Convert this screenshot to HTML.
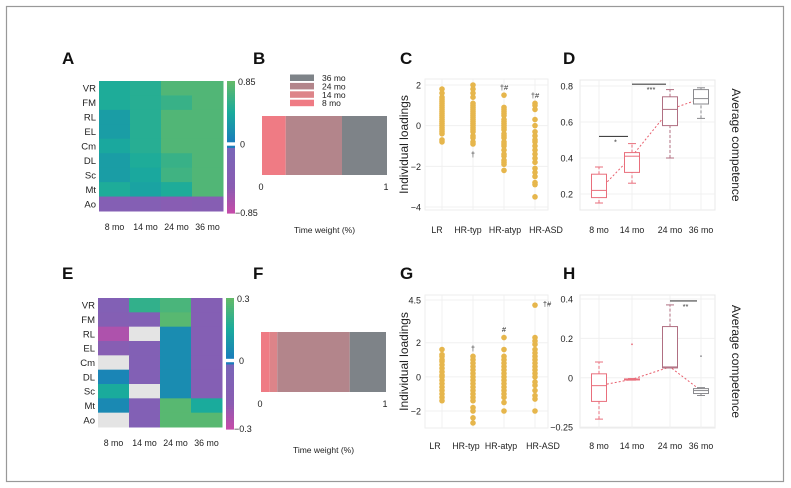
<!DOCTYPE html>
<html><head><meta charset="utf-8">
<style>
body{margin:0;background:#fff;}
svg{display:block;font-family:"Liberation Sans",sans-serif;}
</style></head>
<body>
<svg id="fig" width="791" height="488" viewBox="0 0 791 488" xmlns="http://www.w3.org/2000/svg">
<rect x="6.5" y="6.5" width="777" height="475" fill="#fff" stroke="#999" stroke-width="1.2"/>
</svg>
<script>
// ---------- DATA ----------
const heatRows = ["VR","FM","RL","EL","Cm","DL","Sc","Mt","Ao"];
const heatCols = ["8 mo","14 mo","24 mo","36 mo"];
const heatA = [
 [0.45,0.5,0.75,0.75],[0.45,0.5,0.6,0.75],[0.3,0.5,0.75,0.75],[0.3,0.5,0.75,0.75],
 [0.4,0.5,0.75,0.75],[0.3,0.45,0.6,0.75],[0.3,0.4,0.65,0.75],[0.45,0.35,0.45,0.75],
 [-0.35,-0.35,-0.45,-0.4]];
const heatE = [
 [-0.1,0.2,0.25,-0.12],[-0.12,-0.1,0.28,-0.12],[-0.25,null,0.05,-0.12],[-0.15,-0.1,0.05,-0.12],
 [null,-0.1,0.05,-0.12],[0.03,-0.1,0.05,-0.12],[0.15,null,0.05,-0.12],[0.04,-0.1,0.28,0.15],
 [null,-0.1,0.28,0.28]];
const scaleA = 0.85, scaleE = 0.3;
const weightLabels = ["8 mo","14 mo","24 mo","36 mo"];
const weightsB = [0.19,0.0,0.45,0.36];
const weightsF = [0.07,0.06,0.58,0.29];
const groups = ["LR","HR-typ","HR-atyp","HR-ASD"];
const loadC = [
 [1.8,1.6,1.4,1.3,1.2,1.1,1.0,0.9,0.8,0.7,0.6,0.5,0.4,0.3,0.2,0.1,0,-0.1,-0.2,-0.3,-0.4,-0.7,-0.8],
 [2.0,1.8,1.6,1.4,1.1,1.0,0.9,0.8,0.7,0.6,0.5,0.4,0.3,0.2,0.1,0,-0.1,-0.2,-0.3,-0.5,-0.6,-0.8,-0.9],
 [1.5,0.9,0.8,0.7,0.6,0.5,0.3,0.2,0.1,0,-0.1,-0.2,-0.4,-0.5,-0.6,-0.8,-0.9,-1.0,-1.2,-1.4,-1.5,-1.7,-1.8,-1.9,-2.2],
 [1.1,1.0,0.8,0.3,0,-0.3,-0.5,-0.7,-0.8,-1.0,-1.2,-1.4,-1.6,-1.8,-2.1,-2.3,-2.5,-2.8,-2.9,-3.5]];
const marksC = [null,{t:"†",v:-1.4},{t:"†#",v:1.9},{t:"†#",v:1.5}];
const loadG = [
 [1.6,1.3,1.2,1.0,0.9,0.7,0.5,0.3,0.1,0,-0.2,-0.4,-0.6,-0.8,-1.0,-1.2,-1.4],
 [1.2,1.0,0.8,0.6,0.4,0.2,0,-0.2,-0.4,-0.6,-0.8,-1.0,-1.2,-1.4,-1.8,-2.0,-2.4,-2.7],
 [2.3,1.6,1.2,1.0,0.8,0.6,0.4,0.2,0,-0.2,-0.4,-0.6,-0.8,-1.0,-1.2,-1.5,-2.0],
 [4.2,2.3,2.1,1.9,1.6,1.4,1.2,1.0,0.8,0.6,0.4,0.2,0,-0.3,-0.5,-0.8,-1.1,-1.3,-2.0]];
const marksG = [null,{t:"†",v:1.7},{t:"#",v:2.8},{t:"†#",v:4.3,dx:12}];
const ticksC = [2,0,-2,-4];
const ticksG = [4.5,2,0,-2];
const timeCats = ["8 mo","14 mo","24 mo","36 mo"];
// box stats: [whiskerLow, q1, median, q3, whiskerHigh]
const boxD = [[0.15,0.18,0.22,0.31,0.35],[0.26,0.32,0.41,0.43,0.48],[0.40,0.58,0.67,0.74,0.78],[0.62,0.70,0.73,0.78,0.79]];
const boxH = [[-0.21,-0.12,-0.04,0.02,0.08],[-0.012,-0.01,-0.008,-0.006,-0.004],[0.05,0.05,0.055,0.26,0.37],[-0.09,-0.08,-0.065,-0.055,-0.05]];
const outH = [null,0.17,null,0.11];
const ticksD = [0.8,0.6,0.4,0.2];
const ticksH = [0.4,0.2,0,-0.25];
const sigD = [{a:0,b:1,v:0.52,t:"*"},{a:1,b:2,v:0.81,t:"***"}];
const sigH = [{a:2,b:3,v:0.39,t:"**"}];

// ---------- HELPERS ----------
const NS="http://www.w3.org/2000/svg";
const svg=document.getElementById('fig');
function mk(tag,attrs,parent,text){const e=document.createElementNS(NS,tag);for(const k in attrs)e.setAttribute(k,attrs[k]);if(text!==undefined)e.textContent=text;(parent||svg).appendChild(e);return e;}
function lerp(c1,c2,t){const a=parseInt(c1.slice(1),16),b=parseInt(c2.slice(1),16);const r=Math.round(((a>>16)&255)*(1-t)+((b>>16)&255)*t),g=Math.round(((a>>8)&255)*(1-t)+((b>>8)&255)*t),bl=Math.round((a&255)*(1-t)+(b&255)*t);return `rgb(${r},${g},${bl})`;}
function cmap(v){if(v===null)return "#e4e4e4";if(v>=0){return v<0.5?lerp("#1a7cbc","#1aab9c",v/0.5):lerp("#1aab9c","#62ba6a",(v-0.5)/0.5);}const t=Math.min(1,-v);return t<0.6?lerp("#7866b8","#8a5cb2",t/0.6):lerp("#8a5cb2","#c84aa8",(t-0.6)/0.4);}
function panelLabel(t,x,y){const e=mk('text',{x:x,y:y,'font-size':17,'font-weight':'bold',fill:'#111'},svg,t);}

// ---------- HEATMAPS ----------
function heatmap(id,data,scale,x0,y0,w,h,lbl){
 const g=mk('g',{});
 const cw=w/heatCols.length,rh=h/heatRows.length;
 data.forEach((row,i)=>row.forEach((v,j)=>{
  const r=mk('rect',{x:x0+j*cw,y:y0+i*rh,width:cw+0.5,height:rh+0.5,fill:cmap(v===null?null:v/scale)},g);
  
 }));
 heatRows.forEach((r,i)=>{const t=mk('text',{x:x0-3,y:y0+i*rh+rh/2+3.5,'font-size':9.5,'text-anchor':'end',fill:'#222'},g,r);});
 heatCols.forEach((c,j)=>{const t=mk('text',{x:x0+j*cw+cw/2,y:y0+h+19,'font-size':8.8,'text-anchor':'middle',fill:'#222'},g,c);});
 const cb=mk('g',{},g);
 const cx=x0+w+4,cbw=8,mid=y0+h*0.49,steps=30;
 for(let k=0;k<steps;k++){const v=1-k/steps;mk('rect',{x:cx,y:y0+(mid-3-y0)*k/steps,width:cbw,height:(mid-3-y0)/steps+0.6,fill:cmap(v)},cb);}
 for(let k=0;k<steps;k++){const v=-k/steps;mk('rect',{x:cx,y:mid+1+(y0+h+1-mid)*k/steps,width:cbw,height:(y0+h+1-mid)/steps+0.6,fill:cmap(v)},cb);}
 mk('text',{x:cx+11,y:y0+4,'font-size':9,fill:'#222'},cb,lbl[0]);
 mk('text',{x:cx+13,y:mid+3,'font-size':9,fill:'#222'},cb,"0");
 mk('text',{x:cx+8,y:y0+h+5,'font-size':9,fill:'#222'},cb,lbl[1]);
}
panelLabel("A",62,64);
heatmap("a",heatA,scaleA,99,81,124,130,["0.85","−0.85"]);
panelLabel("E",62,279);
heatmap("e",heatE,scaleE,98,298,124,129,["0.3","−0.3"]);

// ---------- TIME WEIGHT BARS ----------
const wColors=["#ef7b84","#dd8489","#b3858b","#7e8388"];
function weightBar(id,weights,x0,y0,w,h,legend,titleY){
 const g=mk('g',{});
 let acc=0;
 weights.forEach((v,i)=>{const r=mk('rect',{x:x0+acc*w,y:y0,width:v*w,height:h,fill:wColors[i]},g);acc+=v;});
 mk('text',{x:x0-1,y:y0+h+15,'font-size':9,'text-anchor':'middle',fill:'#222'},g,"0");
 mk('text',{x:x0+w-1,y:y0+h+15,'font-size':9,'text-anchor':'middle',fill:'#222'},g,"1");
 const t=mk('text',{x:x0+w/2,y:titleY,'font-size':8.5,'text-anchor':'middle',fill:'#222'},g,"Time weight (%)");
 if(legend){const lg=mk('g',{},g);
  [3,2,1,0].forEach((i,k)=>{const yy=74.5+k*8.4;const e=mk('rect',{x:290,y:yy,width:24,height:6.5,fill:wColors[i]},lg);mk('text',{x:322,y:yy+6.5,'font-size':8.5,fill:'#222'},lg,weightLabels[i]);});}
}
panelLabel("B",253,64);
weightBar("b",weightsB,262,116,125,59,true,233);
panelLabel("F",253,279);
weightBar("f",weightsF,261,332,125,60,false,453);

// ---------- DOT PLOTS ----------
function dotPlot(id,data,marks,ticks,yTop,yTopPx,yBot,yBotPx,boxTop,boxBot,labY,labXs){
 const g=mk('g',{});
 const y=v=>yTopPx+(yTop-v)*(yBotPx-yTopPx)/(yTop-yBot);
 const xs=[442,473,504,535];
 const x=i=>xs[i];
 mk('rect',{x:425,y:boxTop,width:123,height:boxBot-boxTop,fill:'none',stroke:'#eee'},g);
 ticks.forEach(t=>{mk('line',{x1:425,x2:548,y1:y(t),y2:y(t),stroke:'#f0f0f0'},g);const e=mk('text',{x:421,y:y(t)+3.5,'font-size':9,'text-anchor':'end',fill:'#222'},g,String(t).replace('-','−'));});
 groups.forEach((gname,i)=>{mk('line',{x1:x(i),x2:x(i),y1:boxTop,y2:boxBot,stroke:'#f0f0f0'},g);const e=mk('text',{x:labXs[i],y:labY,'font-size':8.8,'text-anchor':'middle',fill:'#222'},g,gname);
  data[i].forEach(v=>{const c=mk('circle',{cx:x(i),cy:y(v),r:2.8,fill:'#e6b64c'},g);});
  const m=marks[i];if(m){mk('text',{x:x(i)+(m.dx||0),y:y(m.v)+3,'font-size':7.5,'text-anchor':'middle',fill:'#333'},g,m.t);}
 });
 const yt=(boxTop+boxBot)/2;
 const e=mk('text',{x:0,y:0,'font-size':12,'text-anchor':'middle',fill:'#222',transform:`translate(408,${yt}) rotate(-90)`},g,"Individual loadings");
}
panelLabel("C",400,64);
dotPlot("c",loadC,marksC,ticksC,2,85,-4,207,79,210,233,[437,468,505,546]);
panelLabel("G",400,279);
dotPlot("g",loadG,marksG,ticksG,4.5,300,-2,411,295,428,449,[435,466,501,543]);

// ---------- BOX PLOTS ----------
const bColors=["#e96f7c","#e96f7c","#b06f82","#8a8a8e"];
function boxPlot(id,data,outs,sigs,ticks,yTop,yTopPx,yBot,yBotPx,boxTop,boxBot,labY){
 const g=mk('g',{});
 const y=v=>yTopPx+(yTop-v)*(yBotPx-yTopPx)/(yTop-yBot);
 const xs=[599,632,670,701];const x=i=>xs[i];
 mk('rect',{x:580,y:boxTop,width:135,height:boxBot-boxTop,fill:'none',stroke:'#e8e8e8'},g);
 ticks.forEach(t=>{mk('line',{x1:580,x2:715,y1:y(t),y2:y(t),stroke:'#f0f0f0'},g);const e=mk('text',{x:573,y:y(t)+3.5,'font-size':9,'text-anchor':'end',fill:'#222'},g,String(t).replace('-','−'));});
 timeCats.forEach((c,i)=>{mk('line',{x1:x(i),x2:x(i),y1:boxTop,y2:boxBot,stroke:'#f0f0f0'},g);const e=mk('text',{x:x(i),y:labY,'font-size':8.8,'text-anchor':'middle',fill:'#222'},g,c);});
 const pts=data.map((d,i)=>x(i)+','+y(d[2])).join(' ');
 const pl=mk('polyline',{points:pts,fill:'none',stroke:'#e8606e','stroke-width':1,'stroke-dasharray':'2,2'},g);
 data.forEach((d,i)=>{const col=bColors[i];const bg=mk('g',{},g);
  const bw=15;
  mk('line',{x1:x(i),x2:x(i),y1:y(d[0]),y2:y(d[1]),stroke:col,'stroke-dasharray':'3,2'},bg);
  mk('line',{x1:x(i),x2:x(i),y1:y(d[3]),y2:y(d[4]),stroke:col,'stroke-dasharray':'3,2'},bg);
  mk('line',{x1:x(i)-4,x2:x(i)+4,y1:y(d[0]),y2:y(d[0]),stroke:col},bg);
  mk('line',{x1:x(i)-4,x2:x(i)+4,y1:y(d[4]),y2:y(d[4]),stroke:col},bg);
  mk('rect',{x:x(i)-bw/2,y:y(d[3]),width:bw,height:Math.max(1,y(d[1])-y(d[3])),fill:'#fff',stroke:col},bg);
  mk('line',{x1:x(i)-bw/2,x2:x(i)+bw/2,y1:y(d[2]),y2:y(d[2]),stroke:col},bg);
  if(outs&&outs[i]!==null){mk('circle',{cx:x(i),cy:y(outs[i]),r:0.9,fill:col},bg);}
 });
 sigs.forEach(s=>{const sg=mk('g',{},g);
  mk('line',{x1:x(s.a),x2:x(s.b)-4,y1:y(s.v),y2:y(s.v),stroke:'#444','stroke-width':1.1},sg);
  mk('text',{x:(x(s.a)+x(s.b))/2,y:y(s.v)+8,'font-size':7.5,'text-anchor':'middle',fill:'#333'},sg,s.t);});
 const yt=(boxTop+boxBot)/2;
 const e=mk('text',{x:0,y:0,'font-size':12,'text-anchor':'middle',fill:'#222',transform:`translate(732,${yt}) rotate(90)`},g,"Average competence");
}
panelLabel("D",563,64);
boxPlot("d",boxD,null,sigD,ticksD,0.8,86,0.2,194,80,210,233);
panelLabel("H",563,279);
boxPlot("h",boxH,outH,sigH,ticksH,0.4,299,-0.25,427,295,428,449);
</script>
</body></html>
